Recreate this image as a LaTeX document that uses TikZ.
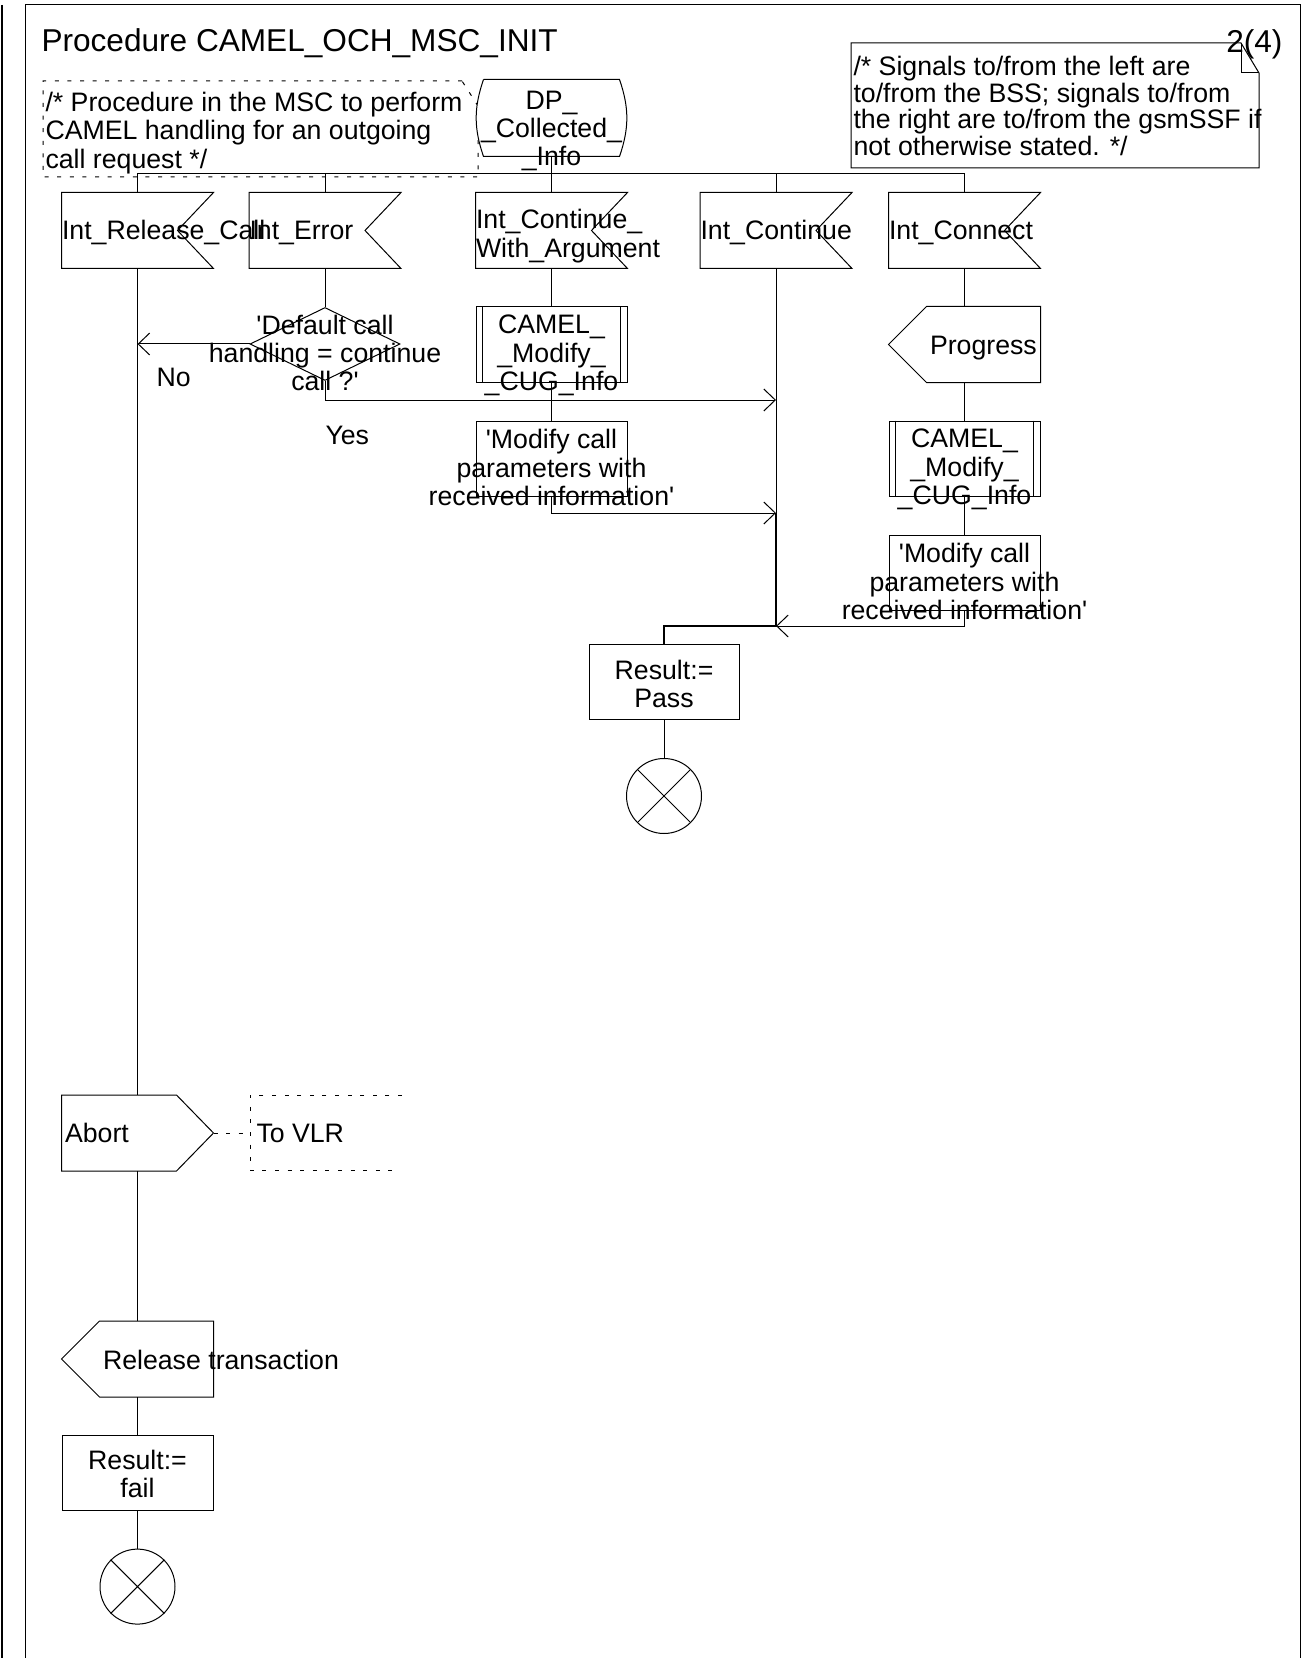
\documentclass[tikz,border=0pt]{standalone}
\usepackage{fontspec}
\setmainfont{Liberation Sans}
\usetikzlibrary{arrows.meta, calc, positioning, shapes.geometric}
\newcommand{\sdlfont}{\fontsize{13.35pt}{14.15pt}\selectfont}
\newcommand{\notefont}{\fontsize{13.35pt}{13.2pt}\selectfont}
\newcommand{\titlefont}{\fontsize{15.8pt}{18pt}\selectfont}
\newcommand{\sqt}{\textquotesingle}
\tikzset{
  box/.style={minimum width=75.5pt, minimum height=37.5pt, inner sep=0pt},
  task/.style={box, draw},
  proc/.style={box, draw},
  sig/.style={box},
  decision/.style={diamond, draw, minimum width=75pt, minimum height=36.5pt, inner sep=0pt},
  stopsym/.style={circle, draw, minimum size=37.5pt, inner sep=0pt},
  txt/.style={inner sep=0pt, font=\sdlfont, align=center},
  comm/.style={dash pattern=on 2pt off 4.3pt},
  joint/.style={line width=1pt}
}
\begin{document}
\begin{tikzpicture}[x=0.5pt, y=-0.5pt, line width=0.5pt, >={Straight Barb[length=5.75pt,width=11pt]}]
\useasboundingbox (0,0) rectangle (1302,1658);
\draw[line width=1.2pt] (2,5) -- (2,1658);
\draw (25,1658) -- (25,5) -- (1300.5,5) -- (1300.5,1658);
\node[txt, font=\titlefont, anchor=base west] (title) at (41,52) {Procedure CAMEL\_OCH\_MSC\_INIT};
\draw (851,43) -- (1241,43) -- (1259,73) -- (1259,168) -- (851,168) -- cycle;
\draw (1241,43) -- (1241,73) -- (1259,73);
\node[txt, font=\notefont, align=left, anchor=west] (cmtr) at (853,106) {/* Signals to/from the left are\\to/from the BSS; signals to/from\\the right are to/from the gsmSSF if\\not otherwise stated. */};
\node[txt, font=\titlefont, anchor=base east] (page) at (1283,52.5) {2(4)};
\draw[comm] (462,81) -- (43,81) -- (43,177) -- (478,177) -- (478,106) -- cycle;
\node[txt, align=left, anchor=west] (cmtl) at (45,133) {/* Procedure in the MSC to perform\\CAMEL handling for an outgoing\\call request */};

\node[box, minimum width=74.5pt, minimum height=38pt] (dp) at (551.5,118) {};
\draw[fill=white] ([xshift=3.5pt]dp.north west) -- ([xshift=-3.5pt]dp.north east) to[bend left=19] ([xshift=-3.5pt]dp.south east) -- ([xshift=3.5pt]dp.south west) to[bend left=19] ([xshift=3.5pt]dp.north west);
\node[txt] (dpt) at ([yshift=-6.5pt]dp.center) {DP\_\\\_Collected\_\\\_Info};

\node[sig] (rel) at (137.5,230.5) {};
\node[sig] (err) at (325,230.5) {};
\node[sig] (cwa) at (551.5,230.5) {};
\node[sig] (cont) at (776,230.5) {};
\node[sig] (conn) at (964.5,230.5) {};
\foreach \n in {rel,err,cwa,cont,conn}
  \draw (\n.north west) -- (\n.north east) -- ([xshift=-18pt]\n.east) -- (\n.south east) -- (\n.south west) -- cycle;
\node[txt, anchor=base west] (relt) at ([yshift=-4.6pt]rel.west) {Int\_Release\_Call};
\node[txt, anchor=base west] (errt) at ([yshift=-4.6pt]err.west) {Int\_Error};
\node[txt, align=left, anchor=west] (cwat) at ([yshift=-2.8pt]cwa.west) {Int\_Continue\_\\With\_Argument};
\node[txt, anchor=base west] (contt) at ([yshift=-4.6pt]cont.west) {Int\_Continue};
\node[txt, anchor=base west] (connt) at ([yshift=-4.6pt]conn.west) {Int\_Connect};

\node[decision, below=19.25pt of err] (dec) {};
\node[txt] (dect) at ([yshift=-4.5pt]dec.center) {\sqt Default call\\handling = continue\\call ?\sqt};
\node[proc, below=19pt of cwa] (proc1) {};
\node[txt] (proc1t) at ([yshift=-5.5pt]proc1.center) {CAMEL\_\\\_Modify\_\\\_CUG\_Info};
\node[task, below=19pt of proc1] (mod1) {};
\node[txt] (mod1t) at ([yshift=-4.5pt]mod1.center) {\sqt Modify call\\parameters with\\received information\sqt};
\node[sig, below=19pt of conn] (prog) {};
\node[txt, anchor=base west] (progt) at ([xshift=20.5pt,yshift=-4.85pt]prog.west) {Progress};
\node[proc, below=19pt of prog] (proc2) {};
\node[txt] (proc2t) at ([yshift=-5.5pt]proc2.center) {CAMEL\_\\\_Modify\_\\\_CUG\_Info};
\node[task, below=19pt of proc2] (mod2) {};
\node[txt] (mod2t) at ([yshift=-4.5pt]mod2.center) {\sqt Modify call\\parameters with\\received information\sqt};
\foreach \n in {proc1,proc2}
  \draw ([xshift=3.6pt]\n.north west) -- ([xshift=3.6pt]\n.south west) ([xshift=-3.6pt]\n.north east) -- ([xshift=-3.6pt]\n.south east);

\node[task, minimum width=75pt] (pass) at (664,681.5) {};
\node[txt] (passt) at ([yshift=-1.1pt]pass.center) {Result:=\\Pass};
\node[stopsym, below=19.25pt of pass] (end1) {};

\node[sig] (abort) at (137.5,1133) {};
\draw (abort.north west) -- ([xshift=-18.5pt]abort.north east) -- (abort.east) -- ([xshift=-18.5pt]abort.south east) -- (abort.south west) -- cycle;
\node[txt, anchor=base west] (abortt) at ([xshift=1.5pt,yshift=-4.85pt]abort.west) {Abort};
\node[sig, below=75pt of abort] (reltr) {};
\node[txt, anchor=base west] (reltrt) at ([xshift=20.5pt,yshift=-5pt]reltr.west) {Release transaction};
\foreach \n in {prog,reltr}
  \draw ([xshift=19pt]\n.north west) -- (\n.north east) -- (\n.south east) -- ([xshift=19pt]\n.south west) -- (\n.west) -- cycle;
\node[task, below=19pt of reltr] (fail) {};
\node[txt] (failt) at ([yshift=-0.5pt]fail.center) {Result:=\\fail};
\node[stopsym, below=18.8pt of fail] (end2) {};
\foreach \n in {end1,end2}
  \draw (\n.north west) -- (\n.south east) (\n.north east) -- (\n.south west);

\node[txt, anchor=base west] (vlr) at (256,1142.7) {To VLR};
\draw[comm] (402,1095) -- (250,1095) -- (250,1170) -- (392,1170);
\coordinate (vlrc) at (250,1133);
\draw[comm] (abort.east) -- (vlrc);

\node[txt, anchor=base west] (no) at (156,386.4) {No};
\node[txt, anchor=base west] (yes) at (325,444) {Yes};

\coordinate (bus) at (0,174);
\coordinate (j1) at (776,400);
\coordinate (j2) at (776,513);
\coordinate (j3) at (776,626);
\draw (dp.south) -- (cwa.north);
\draw (rel.north) |- (conn.north |- bus) -- (conn.north);
\foreach \n in {err,cont} \draw (\n.north) -- (\n.north |- bus);
\draw (rel.south) -- (abort.north);
\draw (err.south) -- (dec.north);
\draw[->] (dec.west) -- (dec.west -| rel.south);
\draw[->] (dec.south) |- (j1);
\draw (cwa.south) -- (proc1.north);
\draw (proc1.south) -- (mod1.north);
\draw[->] (mod1.south) |- (j2);
\draw (conn.south) -- (prog.north);
\draw (prog.south) -- (proc2.north);
\draw (proc2.south) -- (mod2.north);
\draw[->] (mod2.south) |- (j3);
\draw (cont.south) -- (j2);
\draw[joint] (j2) -- (j3) -| (pass.north);
\draw (pass.south) -- (end1.north);
\draw (abort.south) -- (reltr.north);
\draw (reltr.south) -- (fail.north);
\draw (fail.south) -- (end2.north);
\end{tikzpicture}
\end{document}
